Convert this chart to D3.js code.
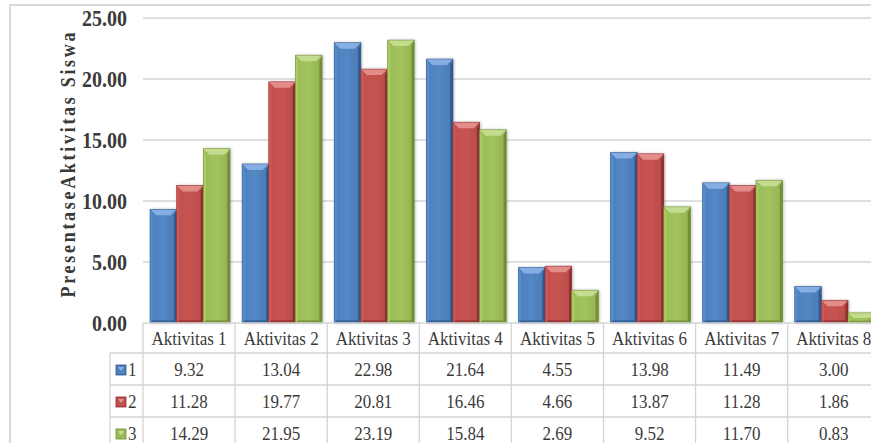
<!DOCTYPE html>
<html>
<head>
<meta charset="utf-8">
<script src="https://cdn.jsdelivr.net/npm/d3@7"></script>
<style>
  html, body { margin: 0; padding: 0; background: #fff; }
  svg { display: block; }
</style>
</head>
<body>
<svg id="chart" width="871" height="443"></svg>
<script>
// Activity categories and the three series, one value per category
const categories = ["Aktivitas 1", "Aktivitas 2", "Aktivitas 3", "Aktivitas 4",
                    "Aktivitas 5", "Aktivitas 6", "Aktivitas 7", "Aktivitas 8"];
const seriesNames = ["1", "2", "3"];
const series1 = [9.32, 13.04, 22.98, 21.64, 4.55, 13.98, 11.49, 3.00];
const series2 = [11.28, 19.77, 20.81, 16.46, 4.66, 13.87, 11.28, 1.86];
const series3 = [14.29, 21.95, 23.19, 15.84, 2.69, 9.52, 11.70, 0.83];
const yTicks = [0, 5, 10, 15, 20, 25];
const yTitle = "PresentaseAktivitas Siswa";

const seriesValues = [series1, series2, series3];
const palette = [
  { base: "#4f81bd", light: "#8db3e6", dark: "#2b5589" },
  { base: "#c0504d", light: "#e59491", dark: "#8a2c2a" },
  { base: "#9bbb59", light: "#c8df93", dark: "#6b8a30" }
];

const svg = d3.select("#chart");
const W = 871, H = 443;
const plotLeft = 143, plotTop = 18, plotBottom = 323;
const colStep = 92.1;
const fontStack = '"Liberation Serif", "Times New Roman", serif';
const textColor = "#3a3a3a";
const lineColor = "#d4d4d4";
// glyphs in this chart are drawn slightly taller than wide
const stretch = 1.15;

const x = d3.scaleBand().domain(categories)
  .range([plotLeft, plotLeft + colStep * categories.length]).padding(0);
const xInner = d3.scaleBand().domain(seriesNames).range([7, 87]).padding(0);
const y = d3.scaleLinear().domain([0, 25]).range([plotBottom, plotTop]);

const defs = svg.append("defs");
const shadow = defs.append("filter").attr("id", "barShadow")
  .attr("x", "-30%").attr("y", "-10%").attr("width", "160%").attr("height", "120%");
shadow.append("feDropShadow").attr("dx", 1).attr("dy", 0)
  .attr("stdDeviation", 1.4).attr("flood-color", "#000").attr("flood-opacity", 0.3);

palette.forEach((p, i) => {
  const g = defs.append("linearGradient").attr("id", "barFill" + i)
    .attr("x1", "0").attr("x2", "1").attr("y1", "0").attr("y2", "0");
  g.append("stop").attr("offset", "0").attr("stop-color", p.base);
  g.append("stop").attr("offset", "0.5").attr("stop-color", d3.color(p.base).brighter(0.12));
  g.append("stop").attr("offset", "1").attr("stop-color", d3.color(p.base).darker(0.15));
});

// draws a text element vertically stretched around its anchor point
function stretchedText(parent, tx, ty, str, size, opts = {}) {
  return parent.append("text")
    .attr("transform", `translate(${tx},${ty}) scale(1,${stretch})`)
    .attr("text-anchor", opts.anchor || "middle")
    .style("font-family", fontStack)
    .style("font-size", size + "px")
    .style("font-weight", opts.bold ? "bold" : "normal")
    .attr("fill", textColor)
    .text(str);
}

// chart frame
svg.append("rect").attr("x", 10).attr("y", 5).attr("width", W).attr("height", H)
  .attr("fill", "none").attr("stroke", "#d9d9d9").attr("stroke-width", 2);

// horizontal gridlines
svg.append("g").selectAll("line").data(yTicks.filter(t => t > 0)).join("line")
  .attr("x1", plotLeft).attr("x2", W)
  .attr("y1", d => y(d)).attr("y2", d => y(d))
  .attr("stroke", lineColor).attr("stroke-width", 1.5);

// y axis labels
const yAxis = d3.axisLeft(y).tickValues(yTicks).tickFormat(d3.format(".2f")).tickSize(0).tickPadding(0);
const yg = svg.append("g").attr("transform", "translate(127,0)").call(yAxis);
yg.select(".domain").remove();
yg.selectAll(".tick text")
  .style("font-family", fontStack).style("font-size", "20px").style("font-weight", "bold")
  .attr("fill", textColor).attr("x", 0).attr("y", 0).attr("dy", "0.32em")
  .attr("transform", `scale(1,${stretch})`);

// y axis title
svg.append("text")
  .attr("transform", `translate(75,165) rotate(-90) scale(1,${stretch})`)
  .attr("text-anchor", "middle")
  .style("font-family", fontStack).style("font-size", "18px").style("font-weight", "bold")
  .attr("fill", textColor)
  .attr("textLength", 265).attr("lengthAdjust", "spacing")
  .text(yTitle);

// bevelled bars
const bevel = 6;
const barData = [];
seriesValues.forEach((vals, si) => {
  vals.forEach((v, ci) => barData.push({ si, cat: categories[ci], v }));
});

const barG = svg.append("g");
const bars = barG.selectAll("g.bar").data(barData).join("g").attr("class", "bar");
bars.each(function (d) {
  const g = d3.select(this);
  const p = palette[d.si];
  const x0 = x(d.cat) + xInner(seriesNames[d.si]);
  const w = xInner.bandwidth();
  const y0 = y(d.v);
  const h = plotBottom - y0;
  const b = Math.min(bevel, h / 2, w / 2);
  g.append("rect").attr("x", x0).attr("y", y0).attr("width", w).attr("height", h)
    .attr("fill", `url(#barFill${d.si})`).attr("filter", "url(#barShadow)");
  // top facet
  g.append("polygon")
    .attr("points", [[x0, y0], [x0 + w, y0], [x0 + w - b, y0 + b], [x0 + b, y0 + b]].join(" "))
    .attr("fill", p.light).attr("opacity", 0.9);
  // left facet
  g.append("polygon")
    .attr("points", [[x0, y0], [x0 + b * 0.45, y0 + b], [x0 + b * 0.45, y0 + h - b * 0.45], [x0, y0 + h]].join(" "))
    .attr("fill", d3.color(p.base).brighter(0.25));
  // right facet
  g.append("polygon")
    .attr("points", [[x0 + w, y0], [x0 + w - b * 0.45, y0 + b], [x0 + w - b * 0.45, y0 + h - b * 0.45], [x0 + w, y0 + h]].join(" "))
    .attr("fill", p.dark).attr("opacity", 0.85);
  // bottom facet
  g.append("polygon")
    .attr("points", [[x0, y0 + h], [x0 + b * 0.45, y0 + h - b * 0.45], [x0 + w - b * 0.45, y0 + h - b * 0.45], [x0 + w, y0 + h]].join(" "))
    .attr("fill", p.dark).attr("opacity", 0.7);
  g.append("rect").attr("x", x0).attr("y", y0).attr("width", w).attr("height", h)
    .attr("fill", "none").attr("stroke", p.dark).attr("stroke-width", 0.6).attr("stroke-opacity", 0.8);
});

// data table
const rowLines = [plotBottom, 353, 385, 417, 449];
const legendLeft = 110;
const tableRight = plotLeft + colStep * categories.length;
const tbl = svg.append("g");
tbl.selectAll("line.h").data(rowLines).join("line").attr("class", "h")
  .attr("x1", (d, i) => i === 0 ? plotLeft : legendLeft).attr("x2", tableRight)
  .attr("y1", d => d).attr("y2", d => d)
  .attr("stroke", lineColor).attr("stroke-width", 1.3);
const colEdges = categories.map(c => x(c)).concat([tableRight]);
tbl.selectAll("line.v").data(colEdges).join("line").attr("class", "v")
  .attr("x1", d => d).attr("x2", d => d)
  .attr("y1", plotBottom).attr("y2", H)
  .attr("stroke", lineColor).attr("stroke-width", 1.3);
tbl.append("line").attr("x1", legendLeft).attr("x2", legendLeft)
  .attr("y1", 353).attr("y2", H).attr("stroke", lineColor).attr("stroke-width", 1.3);

// header labels
categories.forEach(c => {
  stretchedText(tbl, x(c) + x.bandwidth() / 2, 345, c, 17);
});

// value cells and legend keys
const fmt = d3.format(".2f");
seriesValues.forEach((vals, si) => {
  const rowMid = (rowLines[si + 1] + rowLines[si + 2]) / 2;
  vals.forEach((v, ci) => {
    stretchedText(tbl, x(categories[ci]) + x.bandwidth() / 2, rowMid + 7, fmt(v), 17);
  });
  const p = palette[si];
  const kx = 116, ky = rowMid - 4, ks = 10;
  tbl.append("rect").attr("x", kx).attr("y", ky).attr("width", ks).attr("height", ks)
    .attr("fill", p.base).attr("stroke", p.dark).attr("stroke-width", 0.8);
  tbl.append("polygon")
    .attr("points", [[kx + 2, ky + 2], [kx + ks - 2, ky + 2], [kx + ks / 2, ky + ks / 2 + 1]].join(" "))
    .attr("fill", p.light);
  stretchedText(tbl, 128, rowMid + 7, seriesNames[si], 17, { anchor: "start" });
});
</script>
</body>
</html>
